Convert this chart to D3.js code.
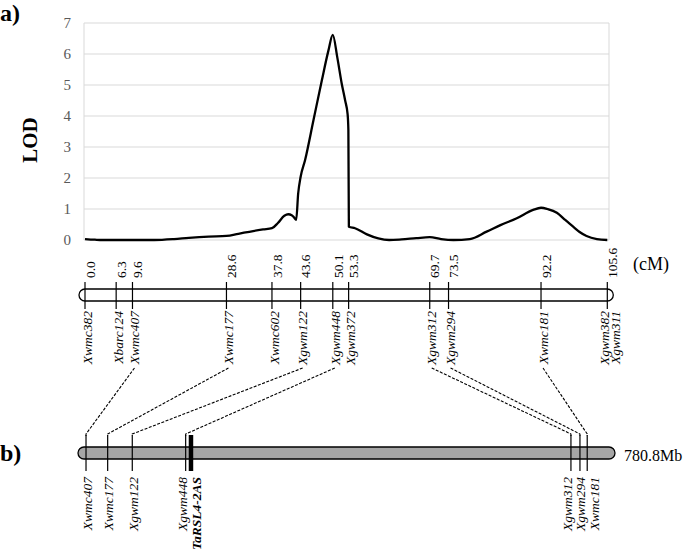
<!DOCTYPE html>
<html><head><meta charset="utf-8">
<script src="https://cdn.jsdelivr.net/npm/d3@7"></script>
<style>
html,body{margin:0;padding:0;background:#fff;}
svg{display:block;font-family:"Liberation Serif","Times New Roman",serif;}
</style></head>
<body>
<svg id="chart" width="685" height="555"></svg>
<script>
// ---- data ----
const lodCM = [0,2,3.5,8,14,18,21,25,28.6,31,34,36,37.8,39,40.3,41.1,41.8,42.3,42.7,43.1,43.6,44.5,46.2,47.9,49.2,50.1,51.0,51.9,52.6,53.1,53.25,53.35,54.6,57,59.3,61.5,64,67,69.7,72,74.5,77.8,81.2,84,87.3,90.6,92.2,93.5,95.4,97,98.7,100,101.4,103.5,105.6];
const lodValues = [0.03,0.01,0.0,0.0,0.0,0.03,0.07,0.11,0.13,0.2,0.29,0.34,0.38,0.55,0.78,0.83,0.8,0.72,0.65,1.5,2.04,2.58,3.87,5.16,6.1,6.62,5.9,5.05,4.5,4.05,3.55,0.43,0.38,0.18,0.05,0.0,0.02,0.06,0.09,0.03,0.0,0.03,0.27,0.48,0.7,0.97,1.04,1.0,0.88,0.66,0.43,0.26,0.13,0.03,0.0];
const lodTicks = [0,1,2,3,4,5,6,7];

const geneticNames = ["Xwmc382","Xbarc124","Xwmc407","Xwmc177","Xwmc602","Xgwm122","Xgwm448","Xgwm372","Xgwm312","Xgwm294","Xwmc181","Xgwm382","Xgwm311"];
const geneticCM    = [0.0,6.3,9.6,28.6,37.8,43.6,50.1,53.3,69.7,73.5,92.2,105.6,105.6];
const geneticTickLabels = ["0.0","6.3","9.6","28.6","37.8","43.6","50.1","53.3","69.7","73.5","92.2","105.6"];
const geneticTickCM = [0.0,6.3,9.6,28.6,37.8,43.6,50.1,53.3,69.7,73.5,92.2,105.6];

const physicalNames = ["Xwmc407","Xwmc177","Xgwm122","Xgwm448","TaRSL4-2AS","Xgwm312","Xgwm294","Xwmc181"];
const physicalMb    = [3.0,35.2,71.8,151.2,159.1,724.2,737.6,748.4];
const physicalLength = 780.8;
const geneName = "TaRSL4-2AS";

// ---- layout ----
const svg = d3.select("#chart");
const x = d3.scaleLinear().domain([0,105.6]).range([85,607.3]);
const y = d3.scaleLinear().domain([0,7]).range([240,23]);
const px = d3.scaleLinear().domain([0,physicalLength]).range([84,609]);
const plotL = 84, plotR = 609;

// panel labels
svg.append("text").attr("x",0).attr("y",21).attr("font-size",24).attr("font-weight","bold").text("a)");
svg.append("text").attr("x",0).attr("y",461).attr("font-size",24).attr("font-weight","bold").text("b)");

// grid
svg.append("g").selectAll("line").data(lodTicks).join("line")
  .attr("x1",plotL).attr("x2",plotR).attr("y1",d=>y(d)).attr("y2",d=>y(d))
  .attr("stroke","#d9d9d9").attr("stroke-width",1);
svg.append("line").attr("x1",plotL).attr("x2",plotL).attr("y1",y(7)).attr("y2",y(0)).attr("stroke","#d9d9d9");
svg.append("line").attr("x1",plotR).attr("x2",plotR).attr("y1",y(7)).attr("y2",y(0)).attr("stroke","#d9d9d9");

// y axis
const yAxis = d3.axisLeft(y).tickValues(lodTicks).tickSize(0).tickPadding(0).tickFormat(d3.format("d"));
const ya = svg.append("g").attr("transform","translate(71,0)").call(yAxis);
ya.select(".domain").remove();
ya.selectAll("text").attr("font-family","Liberation Serif").attr("font-size",15).attr("fill","#595959");

svg.append("text").attr("transform","translate(37,140) rotate(-90)")
  .attr("text-anchor","middle").attr("font-size",21).attr("font-weight","bold").text("LOD");

// LOD curve
const line = d3.line().x((d,i)=>x(lodCM[i])).y(d=>y(d)).curve(d3.curveMonotoneX);
svg.append("path").attr("d",line(lodValues)).attr("fill","none").attr("stroke","#000").attr("stroke-width",2.3).attr("stroke-linejoin","round");

// ---- genetic map ----
const gTop = 289, gH = 12;
svg.append("rect").attr("x",x(0)-6).attr("y",gTop).attr("width",x(105.6)-x(0)+12).attr("height",gH)
  .attr("rx",6).attr("ry",6).attr("fill","#fff").attr("stroke","#000").attr("stroke-width",1.3);
svg.append("g").selectAll("line").data(geneticTickCM).join("line")
  .attr("x1",d=>x(d)).attr("x2",d=>x(d)).attr("y1",282).attr("y2",309)
  .attr("stroke","#000").attr("stroke-width",1.2);
svg.append("g").selectAll("text").data(geneticTickLabels).join("text")
  .attr("transform",(d,i)=>`translate(${x(geneticTickCM[i])+5},278) rotate(-90)`)
  .attr("dy","0.35em").attr("text-anchor","start").attr("font-size",13.5).text(d=>d);
svg.append("text").attr("x",633).attr("y",270).attr("font-size",18).text("(cM)");

// spread labels helper
function spread(xs, minGap){
  const idx = xs.map((v,i)=>i).sort((a,b)=>xs[a]-xs[b]);
  const out = xs.slice();
  let clusters = [];
  idx.forEach(i=>{
    const last = clusters[clusters.length-1];
    if(last && xs[i] - xs[last[last.length-1]] < minGap) last.push(i); else clusters.push([i]);
  });
  clusters.forEach(c=>{
    if(c.length<2) return;
    const mean = d3.mean(c, i=>xs[i]);
    c.forEach((i,k)=>{ out[i] = mean + (k-(c.length-1)/2)*minGap; });
  });
  return out;
}

const gLabelX = spread(geneticCM.map(d=>x(d)+2), 11);
svg.append("g").selectAll("text").data(geneticNames).join("text")
  .attr("transform",(d,i)=>`translate(${gLabelX[i]},311) rotate(-90)`)
  .attr("dy","0.35em").attr("text-anchor","end").attr("font-size",13.5).attr("font-style","italic").text(d=>d);

// ---- physical map ----
const pTop = 447, pH = 12;
svg.append("rect").attr("x",px(0)-6).attr("y",pTop).attr("width",px(physicalLength)-px(0)+12).attr("height",pH)
  .attr("rx",6).attr("ry",6).attr("fill","#a6a6a6").attr("stroke","#000").attr("stroke-width",1.3);
svg.append("text").attr("x",624).attr("y",461).attr("font-size",16).text(physicalLength+"Mb");

svg.append("g").selectAll("line").data(physicalNames).join("line")
  .attr("x1",(d,i)=>px(physicalMb[i])).attr("x2",(d,i)=>px(physicalMb[i]))
  .attr("y1",435).attr("y2",471)
  .attr("stroke","#000").attr("stroke-width",d=>d===geneName?4.5:1.2);

const pLabelX = spread(physicalMb.map(d=>px(d)+1), 13.5);
svg.append("g").selectAll("text").data(physicalNames).join("text")
  .attr("transform",(d,i)=>`translate(${pLabelX[i]},477) rotate(-90)`)
  .attr("dy","0.35em").attr("text-anchor","end").attr("font-size",13.5)
  .attr("font-style","italic").attr("font-weight",d=>d===geneName?"bold":"normal").text(d=>d);

// connectors
const links = physicalNames.map((n,i)=>({n, j: geneticNames.indexOf(n), i})).filter(d=>d.j>=0);
svg.append("g").selectAll("path").data(links).join("path")
  .attr("d",d=>`M${gLabelX[d.j]},368 L${px(physicalMb[d.i])},434 L${px(physicalMb[d.i])},436`)
  .attr("fill","none").attr("stroke","#000").attr("stroke-width",1.1).attr("stroke-dasharray","3,1.5");
</script>
</body></html>
